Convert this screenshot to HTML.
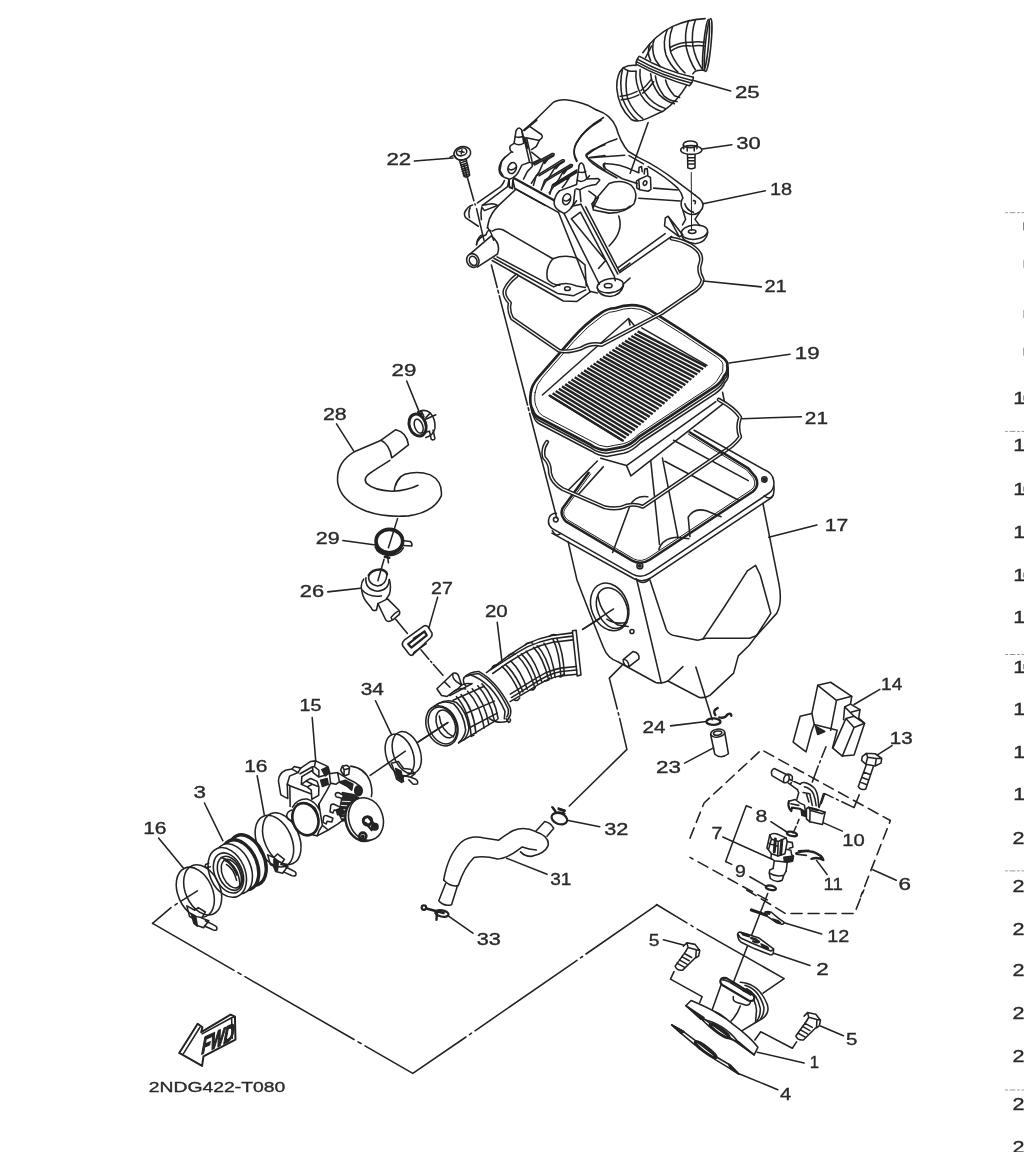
<!DOCTYPE html>
<html><head><meta charset="utf-8"><title>Intake parts diagram</title><style>
html,body{margin:0;padding:0;background:#fff}
svg{display:block}
path,line,ellipse,circle,polyline,polygon,rect{fill:none;stroke:#222;stroke-width:1.55;stroke-linecap:round;stroke-linejoin:round;vector-effect:non-scaling-stroke}
.w{fill:#fff}
.k{fill:#262626}
.t{stroke-width:1}
.b{stroke-width:2.4}
.d{stroke-dasharray:14 4 2 4}
text{font-family:"Liberation Sans",sans-serif;font-size:16.6px;fill:#2a2a2a}
</style></head><body>
<svg width="1024" height="1152" viewBox="0 0 1024 1152">
<g transform="translate(495,120) scale(0.10742)">
<!-- left stud -->
<path d="M178,215 L196,100 Q224,52 250,96 L268,215 M186,152 Q222,172 260,150 M178,215 Q222,246 268,215"/>
<path d="M178,218 L145,238 Q128,262 150,292 L165,300"/>
<!-- clip -->
<path class="b" d="M275,165 L300,260"/>
<path d="M268,160 L322,394 L348,402 M296,175 L345,385 M262,150 L250,96"/>
<!-- notch box -->
<path class="b" d="M385,0 L272,95"/>
<path d="M325,62 L432,135 Q445,150 438,165 L412,190 L292,165 M412,192 L385,245 L340,275 M340,300 L422,365 L352,398"/>
<!-- left ear -->
<path d="M150,300 L92,348 Q40,395 38,458 Q38,508 80,530 L135,552 Q200,530 225,470 L250,420 L322,394"/>
<path d="M92,348 L62,385 L45,470 L75,520"/>
<ellipse cx="160" cy="447" rx="38" ry="53" transform="rotate(20 160 447)"/>
<path d="M128,455 Q160,480 196,440"/>
<!-- leg under left ear -->
<path d="M128,560 L130,618 L160,636 L166,560"/>
<!-- bar -->
<path class="b" d="M178,542 L545,745"/>
<path d="M190,640 L590,860 M166,560 L185,640"/>
<!-- right stud -->
<path d="M765,560 L782,425 Q800,380 825,420 L855,545 M775,480 Q812,500 845,478 M765,560 Q812,590 858,545"/>
<path d="M858,545 L880,520"/>
<!-- bracket top right -->
<path d="M600,660 L760,600 L765,560 M858,550 L960,545 L975,560 L940,600 Q850,610 790,650 L755,640 M790,650 L800,760"/>
<!-- right ear -->
<path d="M600,660 Q560,700 550,760 Q548,810 590,840 L640,870 Q700,850 730,780 L745,650"/>
<ellipse cx="667" cy="738" rx="36" ry="52" transform="rotate(20 667 738)"/>
<path d="M638,745 Q668,770 700,730"/>
<!-- dome crease / ridges -->
<path d="M990,0 Q800,110 745,240 Q720,320 760,385"/>
<path d="M1024,230 Q900,270 850,320 Q840,340 870,360 L1024,470"/>
<path d="M880,350 L1024,330"/>
<path d="M1024,400 Q1005,420 1024,440"/>
<!-- left strut -->
</g>

<g transform="translate(570,110) scale(0.15625)">
<!-- dome right contour + rail -->
<path d="M170,0 Q262,30 295,110 Q320,200 372,264 L440,305 Q560,360 690,462 L800,545"/>
<path d="M378,292 L470,345 M500,362 Q610,425 690,500 Q715,530 722,562"/>
<path d="M215,48 Q90,120 42,210 Q10,270 45,325"/>
<path d="M300,185 Q200,215 105,290 Q120,340 230,395 L300,435"/>
<path d="M130,305 L350,290"/>
<path d="M215,345 Q300,338 400,385 L440,402 M215,345 Q205,365 240,385 L335,440 L430,470"/>
<!-- lead line 25 -->
<path d="M500,80 L385,405"/>
<!-- small bracket -->
<path d="M440,445 L495,420 L515,432 L518,508 L500,520 L445,510 Z M440,445 L425,455 L428,500 L445,510"/>
<ellipse cx="480" cy="468" rx="11" ry="15" transform="rotate(25 480 468)"/>
<path d="M440,400 L442,368 L458,362 L462,395 M475,410 L478,378 L494,374 L498,415"/>
<!-- nose -->
<path d="M250,470 Q330,440 392,482 Q440,530 410,600 Q350,662 250,660 L150,640 L140,600 Z"/>
<path d="M535,500 L690,512 M440,565 L705,582"/>
<!-- upper tab ring -->
<path d="M722,562 Q700,600 722,640 Q780,692 832,650 Q872,610 832,570 L800,545"/>
<path d="M735,600 Q745,640 790,655 M790,580 Q810,580 800,600"/>
<!-- lower tab -->
<ellipse cx="797" cy="782" rx="84" ry="46" transform="rotate(-5 797 782)"/>
<path d="M714,798 Q720,846 802,856 Q872,846 881,786"/>
<ellipse cx="782" cy="778" rx="24" ry="12"/>
<path d="M722,640 L740,700 L720,735 M832,650 L800,700 L830,740"/>
<!-- flap -->
<path d="M610,690 L628,680 L722,800 L700,812 L605,742 Z M628,680 L700,812"/>
<!-- bolt 30 -->
<ellipse cx="770" cy="220" rx="45" ry="22"/>
<path d="M726,222 L728,248 M814,222 L812,248 M750,240 L750,262 M795,240 L795,262"/>
<ellipse cx="776" cy="256" rx="68" ry="28"/>
<path d="M752,284 L754,370 Q775,382 800,370 L800,284 M754,305 L800,305 M754,325 L800,325 M754,345 L800,345"/>
<path class="t" d="M776,400 L778,772"/>
<path d="M846,250 L1036,222 M852,600 L1250,517"/>
<!-- lower-left struts -->
<path d="M150,622 L182,560"/>
</g>

<g transform="translate(450,170) scale(0.17578)">
<!-- struts from right ear to foot -->
<path d="M617,240 L795,690 M650,250 L850,650 M690,278 L885,515 L845,560 M690,278 L742,240 M745,195 L955,592 M772,210 L962,575 M742,240 L935,605 L940,630"/>
<path d="M700,205 L745,195 M690,215 L720,175"/>
<!-- foot -->
<ellipse cx="912" cy="658" rx="75" ry="40" transform="rotate(-8 912 658)"/>
<ellipse cx="900" cy="658" rx="22" ry="12"/>
<path d="M838,672 Q845,715 910,720 Q975,712 987,655 M795,690 L838,700"/>
<!-- flange -->
<path d="M240,515 L645,745 L722,748 L800,692"/>
<path d="M250,502 L612,702 L700,716 L772,682"/>
<path d="M268,494 L590,665 Q650,630 720,660 L770,668"/>
<ellipse cx="668" cy="675" rx="16" ry="11"/>
<!-- lower body -->
<path d="M240,348 Q270,328 300,340 L585,505 Q540,560 555,622 Q575,652 625,655"/>
<path d="M585,505 Q650,480 720,500 L768,540 L775,660"/>
<!-- upper body left contour -->
<!-- nipple -->
<ellipse cx="130" cy="515" rx="34" ry="40" transform="rotate(-25 130 515)"/>
<ellipse cx="132" cy="517" rx="21" ry="27" transform="rotate(-25 132 517)"/>
<path d="M112,480 L235,375 Q292,420 270,478 L155,552"/>
<path d="M150,425 Q158,385 205,368 M205,368 Q215,335 232,345"/>
<!-- left wing -->
<!-- dash-dot centre line -->

<!-- right side -->
<path d="M960,262 Q990,350 905,432 M815,200 Q900,245 1000,222 L1024,205 M815,200 L830,150 L790,120"/>
<path d="M962,575 L1024,530 M985,650 L1024,615"/>
</g>

<g transform="translate(450,90) scale(0.17578)">
<!-- dome top outline -->
<path d="M452,203 L588,70 Q612,54 655,55 Q720,60 790,90 L836,115"/>
<!-- screw 22 -->
<ellipse cx="70" cy="360" rx="48" ry="38" transform="rotate(-15 70 360)"/>
<ellipse cx="66" cy="352" rx="30" ry="22" transform="rotate(-15 66 352)"/>
<path d="M52,350 L80,354 M68,340 L64,364"/>
<path d="M28,375 Q40,410 92,392"/>
<path d="M55,402 L82,492 Q98,500 112,485 L92,394 M58,416 L95,403 M61,428 L98,415 M64,440 L101,427 M67,452 L104,439 M70,464 L107,451 M73,476 L109,463 M77,488 L111,476"/>
<path d="M0,382 L22,372"/>
</g>

<g transform="translate(590,0) scale(0.17578)">
<!-- flange right -->
<ellipse cx="672" cy="256" rx="16" ry="152" transform="rotate(5.5 672 256)"/>
<ellipse cx="660" cy="256" rx="14" ry="146" transform="rotate(5.5 660 256)"/>
<!-- upper section -->
<path d="M655,106 Q560,110 470,150 Q370,200 300,300"/>
<path d="M640,400 Q600,395 585,420"/>
<path d="M600,112 Q575,180 585,260 Q600,340 640,395"/>
<path d="M560,120 Q535,190 548,270 Q565,345 600,398"/>
<path d="M470,152 Q440,230 460,300 Q490,370 540,415"/>
<path d="M440,168 Q410,240 432,312 Q455,370 500,410"/>
<path d="M365,225 Q345,280 372,340 L400,380 M340,250 Q322,300 345,345"/>
<path d="M462,290 Q510,255 575,262 M455,270 Q510,238 580,240"/>
<path d="M585,262 Q615,255 655,262 M583,240 Q615,235 655,242"/>
<path d="M315,330 Q330,300 350,262"/>
<!-- clamp band -->
<path d="M280,320 Q262,340 262,365 Q400,440 565,488 Q585,470 588,440"/>
<path d="M285,322 Q420,400 588,440 M272,338 Q410,418 582,458 M266,352 Q405,430 575,472"/>
<!-- lower section -->
<path d="M262,372 Q225,368 190,385 Q150,420 152,500 Q160,610 235,680 Q270,700 330,672 L420,630 Q500,570 548,488"/>
<path d="M190,385 Q215,410 262,405"/>
<path d="M262,405 Q255,470 290,540 Q330,610 410,635 M285,395 Q278,460 312,528 Q350,590 430,618"/>
<path d="M345,420 Q350,480 395,540 Q435,580 480,590 M372,432 Q378,490 420,545 Q455,575 495,578"/>
<path d="M430,455 Q440,500 480,545 L510,555"/>
<path d="M185,395 Q165,470 185,560 Q215,640 270,685 M215,405 Q195,480 215,565 Q245,635 300,675"/>
<path d="M172,548 Q215,545 268,520 M178,568 Q225,565 278,540"/>
<path d="M290,515 Q320,490 350,450 M300,530 Q335,505 362,465"/>
<!-- lead line -->
<path d="M590,458 L800,518"/>
</g>

<g transform="translate(455,170) scale(0.08789)">
<path d="M200,398 Q140,415 108,488 Q105,530 128,548 L265,640"/>
<path d="M172,430 Q148,480 165,540"/>
<path d="M255,375 L520,188 Q550,160 562,120"/>
<path d="M312,402 L598,190 L612,120"/>
<path d="M615,110 L620,200 L655,212 L662,110"/>
<path d="M312,402 L420,385 Q470,390 482,405 L335,462 L312,432"/>
<path d="M305,420 Q288,490 300,565"/>
<path d="M690,222 L500,400 Q400,500 380,600 L368,660"/>
<path d="M690,218 L1024,402"/>
<path d="M370,650 Q420,720 440,800"/>
<path d="M245,850 Q250,780 300,742"/>
<path d="M100,-60 L215,350 M226,385 L232,398 M245,440 L330,800"/>
</g>

<g transform="translate(515,145) scale(0.06836)">
<path d="M125,500 L180,390 L255,312 L250,285 L545,125 Q588,120 565,160 L420,245 L350,400 L315,445 L240,560"/>
<path d="M285,292 L555,146"/>
<path d="M270,590 L310,452 L330,440 L695,215 Q738,212 715,248 L590,322 L510,452 L450,532 L385,650"/>
<path d="M352,452 L705,238"/>
<path d="M385,660 L430,522 L440,510 L815,285 Q858,282 832,318 L700,398 L640,502 L600,562 L500,700"/>
<path d="M462,522 L822,305"/>
<path d="M510,720 L545,592 L555,575 L905,365 M580,600 L905,400 M800,470 L740,562 L690,625 M567,590 L905,383"/>
<path class="k" d="M420,245 L470,222 L435,268 Z M590,322 L640,298 L600,345 Z M700,398 L750,372 L712,420 Z"/>
</g>

<g transform="translate(480,240) scale(0.29297)">
<path class="w" transform="translate(3,22)" d="M173,523 Q176,495 200,468 L312,340 Q360,285 415,248 Q440,232 460,233 Q490,222 518,222 Q550,222 576,237 L700,315 L825,398 Q848,415 844,430 Q848,450 833,464 Q825,485 800,502 L545,670 Q515,700 488,706 Q455,712 430,717 Q400,715 378,699 L200,606 Q185,598 180,580 Q168,560 173,523 Z"/>
<path class="w" transform="translate(2,11)" d="M173,523 Q176,495 200,468 L312,340 Q360,285 415,248 Q440,232 460,233 Q490,222 518,222 Q550,222 576,237 L700,315 L825,398 Q848,415 844,430 Q848,450 833,464 Q825,485 800,502 L545,670 Q515,700 488,706 Q455,712 430,717 Q400,715 378,699 L200,606 Q185,598 180,580 Q168,560 173,523 Z"/>
<path d="M412,745 L500,770 L515,805 M500,770 L805,552 M515,805 L835,555 L828,520"/>
<path class="w" style="stroke-width:2.7" d="M173,523 Q176,495 200,468 L312,340 Q360,285 415,248 Q440,232 460,233 Q490,222 518,222 Q550,222 576,237 L700,315 L825,398 Q848,415 844,430 Q848,450 833,464 Q825,485 800,502 L545,670 Q515,700 488,706 Q455,712 430,717 Q400,715 378,699 L200,606 Q185,598 180,580 Q168,560 173,523 Z"/>
<path class="t" transform="translate(508,470) scale(0.955) translate(-508,-470)" d="M173,523 Q176,495 200,468 L312,340 Q360,285 415,248 Q440,232 460,233 Q490,222 518,222 Q550,222 576,237 L700,315 L825,398 Q848,415 844,430 Q848,450 833,464 Q825,485 800,502 L545,670 Q515,700 488,706 Q455,712 430,717 Q400,715 378,699 L200,606 Q185,598 180,580 Q168,560 173,523 Z"/>
<path d="M213,529 L507,268 L530,296 M507,268 L512,290 M552,300 L775,428"/>
<path style="stroke-width:2.4;stroke-linecap:butt" d="M538.0,312.0 L772.0,432.0 M527.2,319.8 L761.9,441.0 M516.5,327.6 L751.7,450.1 M505.8,335.5 L741.6,459.1 M495.0,343.3 L731.4,468.1 M484.2,351.1 L721.3,477.2 M473.5,358.9 L711.1,486.2 M462.8,366.8 L701.0,495.2 M452.0,374.6 L690.9,504.3 M441.2,382.4 L680.7,513.3 M430.5,390.2 L670.6,522.4 M419.8,398.0 L660.4,531.4 M409.0,405.9 L650.3,540.4 M398.2,413.7 L640.1,549.5 M387.5,421.5 L630.0,558.5 M376.8,429.3 L619.9,567.5 M366.0,437.1 L609.7,576.6 M355.2,445.0 L599.6,585.6 M344.5,452.8 L589.4,594.6 M333.8,460.6 L579.3,603.7 M323.0,468.4 L569.1,612.7 M312.2,476.2 L559.0,621.8 M301.5,484.1 L548.9,630.8 M290.8,491.9 L538.7,639.8 M280.0,499.7 L528.6,648.9 M269.2,507.5 L518.4,657.9 M258.5,515.4 L508.3,666.9 M247.8,523.2 L498.1,676.0 M237.0,531.0 L488.0,685.0"/>
<path d="M237.0,531.0 L488.0,685.0" style="stroke-width:2"/>
<path style="stroke-width:4.2" d="M654,-5 Q690,0 720,18 Q765,45 752,80 Q742,105 760,135 Q758,160 720,182 L620,250 L415,358 Q380,350 345,370 Q300,385 270,378 L110,268 Q95,240 102,215 Q78,190 85,170 Q95,145 125,122"/><path style="stroke:#fff;stroke-width:1.2" d="M654,-5 Q690,0 720,18 Q765,45 752,80 Q742,105 760,135 Q758,160 720,182 L620,250 L415,358 Q380,350 345,370 Q300,385 270,378 L110,268 Q95,240 102,215 Q78,190 85,170 Q95,145 125,122"/>
<path style="stroke-width:4.2" d="M815,545 Q870,575 888,605 Q875,640 888,672 Q870,700 820,730"/><path style="stroke:#fff;stroke-width:1.2" d="M815,545 Q870,575 888,605 Q875,640 888,672 Q870,700 820,730"/>
<path d="M762,140 L960,160 M850,420 L1058,390 M895,610 L1097,603"/>
</g>
<g transform="translate(530,420) scale(0.29297)">
<!-- interior -->
<path d="M412,138 L442,425 M452,130 L505,400 M460,141 L712,274 M490,69 L745,207 M540,332 Q560,298 602,310 L652,330 M540,332 L546,398"/>
<path d="M282,452 L342,290 Q362,255 402,262 M440,442 Q450,405 500,400 L542,405 M130,240 L230,140 M160,260 L250,160"/>
<!-- rim outer -->
<path d="M560,35 L800,170 Q828,180 832,208 Q836,236 815,250 L410,522 Q380,542 350,526 L75,370 Q58,355 65,335 Q70,318 90,318"/>
<path d="M75,386 L355,542 Q385,557 415,537 L826,264 Q836,250 832,225"/>
<!-- inner rim bold -->
<path style="stroke-width:2.5" d="M545,42 L745,165 L770,195 Q785,225 760,245 L410,476 Q380,496 350,481 L122,346 Q100,322 112,300 L200,180"/>
<path class="t" d="M540,48 L740,171 L763,199 Q775,224 754,239 L406,469 Q380,487 354,474 L127,340 Q108,322 119,304 L207,184"/>
<circle cx="375" cy="498" r="10"/><circle cx="375" cy="498" r="4" class="k"/>
<circle cx="800" cy="203" r="9"/><circle cx="800" cy="203" r="4" class="k"/>
<circle cx="88" cy="340" r="8"/>
<!-- bosses -->
<path d="M362,542 Q385,568 410,542 M800,258 Q815,275 830,258 M76,378 Q88,400 104,388"/>
<!-- body -->
<path d="M130,415 L160,545 Q200,650 250,775 Q265,815 300,825 L429,896 Q450,901 471,891 L578,947 Q600,950 615,939 L695,864 L711,805 L749,768 L773,736 L842,660 Q862,625 850,560 L795,285"/>
<path d="M365,548 L448,898 M410,548 L465,715 Q475,735 500,737 L572,752 L602,745 L750,745 L772,736"/>
<path d="M590,748 L662,640 L742,515 L770,496 L786,530 L822,660 L772,738"/>
<path d="M471,891 L522,842"/>
<!-- hole -->
<ellipse cx="272" cy="638" rx="62" ry="84" transform="rotate(-22 272 638)"/>
<ellipse cx="280" cy="642" rx="50" ry="72" transform="rotate(-22 280 642)"/>
<path d="M232,600 Q240,660 300,700 L335,705 M262,680 Q290,700 330,690"/>
<circle cx="348" cy="722" r="7"/>
<!-- nipple -->
<path d="M318,818 L352,790 Q375,795 372,815 L338,842 Q318,840 318,818 Z M318,818 Q335,815 338,842"/>
<!-- lead lines -->
<path d="M180,715 L285,645 M815,400 L979,358"/>
<!-- gasket bottom portion -->
<path style="stroke-width:4.2" d="M58,75 Q40,100 48,128 Q70,150 68,180 Q75,215 110,235 L255,298 Q300,308 330,292 Q360,285 385,296 L649,116"/>
<path style="stroke:#fff;stroke-width:1.2" d="M58,75 Q40,100 48,128 Q70,150 68,180 Q75,215 110,235 L255,298 Q300,308 330,292 Q360,285 385,296 L649,116"/>
</g>

<g transform="translate(290,350) scale(0.18229)">
<!-- hose 28 -->
<path d="M500,495 L580,437 Q640,450 650,520 L560,590 M500,495 Q548,520 558,592"/>
<path d="M500,495 L350,560 Q250,620 262,730 Q280,830 420,885 Q520,920 650,910 Q790,890 830,800 Q838,720 770,685 Q700,660 630,682 Q590,700 580,742"/>
<path d="M548,605 L455,665 Q395,700 420,732 Q460,770 560,775 Q650,770 702,742"/>
<path d="M602,705 Q575,730 572,772"/>
<path d="M255,405 L350,555"/>
<!-- upper clamp 29 -->
<path d="M640,170 L705,330"/>
<ellipse cx="700" cy="412" rx="45" ry="62" transform="rotate(-20 700 412)" style="stroke-width:3"/>
<ellipse cx="706" cy="418" rx="22" ry="40" transform="rotate(-20 706 418)"/>
<path d="M700,340 Q740,320 770,345 Q800,380 795,430 Q785,470 745,480 M720,335 L735,365 M770,345 L745,372"/>
<path d="M745,380 L800,355 M735,455 L765,445 L775,490 Q790,498 795,485 L785,440"/>
<path class="b" d="M705,345 L722,350"/>
<!-- centre line -->
<path d="M590,925 L540,1085"/>
<!-- lower clamp 29 -->
<ellipse cx="545" cy="1048" rx="73" ry="64" style="stroke-width:3.6"/>
<path d="M475,1075 Q490,1120 545,1128 Q600,1125 622,1085 M488,1095 L500,1110 M520,1118 L540,1122"/>
<path d="M615,1045 L660,1050 Q672,1060 668,1075 L622,1072"/>
<path d="M290,1045 L470,1070"/>
<path class="b" d="M520,1135 L545,1140"/>
</g>

<g transform="translate(290,540) scale(0.17578)">
<!-- 26 -->
<path style="stroke-width:2.4" d="M448,200 Q470,165 520,168 Q548,175 552,195"/>
<path d="M448,200 Q440,250 498,262 Q548,258 552,195"/>
<path d="M432,215 Q425,282 500,292 Q562,285 565,225 M420,222 Q405,240 405,268 Q412,325 432,348 L462,385 Q468,408 492,398 L500,362"/>
<path d="M565,225 Q578,270 565,310 L548,335 M410,285 Q450,330 520,318"/>
<path d="M500,362 L555,335 L620,400 Q632,418 612,432 M500,362 L545,455 Q560,472 582,455 L575,440 Q590,418 620,402 M585,455 L612,432"/>
<path d="M535,110 L500,232 M600,450 L668,532"/>
<path d="M745,625 L790,678 M800,690 L806,697 M816,708 L870,770"/>
<path d="M215,295 L400,275 M840,325 L790,500"/>
<!-- 27 -->
<path d="M640,600 Q635,585 650,570 L760,490 Q775,482 786,495 L808,530 Q812,545 800,556 L702,650 Q690,662 678,650 Z"/>
<path style="stroke-width:2.2" d="M672,592 L765,520 L778,542 L690,612 Z"/>
<path d="M702,560 L765,520 M700,652 L705,640 L775,590"/>
<!-- bottom of lower clamp 29 -->
<path style="stroke-width:2.6" d="M488,40 Q500,75 555,85 Q610,80 628,40"/>
<path d="M555,90 L560,130"/>
</g>

<g transform="translate(410,600) scale(0.18555)">
<!-- left opening -->
<ellipse cx="172" cy="678" rx="82" ry="112" transform="rotate(-22 172 678)"/>
<ellipse cx="176" cy="676" rx="73" ry="103" transform="rotate(-22 176 676)"/>
<ellipse cx="193" cy="668" rx="48" ry="78" transform="rotate(-22 193 668)"/>
<path d="M158,625 Q165,700 235,738"/>
<path d="M130,572 Q180,535 235,560 Q290,610 300,700 Q295,740 262,770"/>
<path d="M150,560 Q200,530 250,552 Q305,600 318,690 Q315,725 290,755"/>
<path d="M45,765 L205,660"/>
<!-- left ribbed section -->
<path d="M215,515 L335,450 M262,770 L470,645"/>
<path d="M250,520 Q320,600 330,735 M275,510 Q345,590 355,718 M310,492 Q380,565 400,690 M335,478 Q405,550 425,672 M365,462 Q430,530 455,650 M388,452 Q455,520 475,640"/>
<path d="M232,540 L400,465 M300,612 L455,545 M318,690 L470,610 M330,735 L345,728"/>
<!-- port -->
<path d="M145,478 L232,395 Q255,388 262,410 L278,458 Q262,480 240,490 L200,520 L170,515 Z M232,395 Q225,420 250,440 L278,458 M185,440 L215,470"/>
<path d="M278,458 Q300,445 330,452 M240,490 Q270,470 300,480"/>
<!-- big flange -->
<path d="M290,420 Q320,385 370,385 Q470,440 540,580 Q548,610 535,632"/>
<path d="M305,412 Q335,395 372,398 Q465,450 528,585 Q535,610 522,630 M320,402 Q440,440 512,600 L508,640"/>
<path d="M290,420 Q282,445 300,462 M430,640 Q470,668 520,655 L535,632 M518,640 L532,660 Q545,655 540,642"/>
<path d="M470,120 L495,325 M930,158 L1024,100"/>
</g>

<g transform="translate(480,620) scale(0.10742)">
<path d="M60,490 L240,350 Q340,280 440,220 Q550,170 670,145 L860,120"/>
<path d="M280,760 L450,660 Q540,600 620,560 Q690,530 750,520 L905,505"/>
<path class="w" d="M860,100 L895,95 L940,512 L905,522 Z"/>
<path d="M205,432 Q300,520 372,690 M238,415 Q335,505 400,668"/>
<path d="M350,335 Q450,430 505,615 M385,315 Q485,410 535,595"/>
<path d="M498,255 Q590,350 640,560 M532,240 Q625,335 668,545"/>
<path d="M680,180 Q740,300 752,515 M715,172 Q775,290 785,510"/>
<path d="M290,385 Q380,470 440,645 M430,290 Q520,390 575,578 M595,215 Q670,320 700,535"/>
<path d="M100,462 L240,372 Q340,305 440,250 Q550,200 670,175 L862,150"/>
<path d="M118,498 L255,402 Q350,340 450,285 Q560,232 680,208 L865,185"/>
<path d="M292,722 L455,622 Q540,565 620,524 Q690,492 755,480 L902,466"/>
<path d="M282,690 L440,592 Q530,535 610,492 Q680,462 748,448 L898,432"/>
<path d="M110,450 Q120,415 160,420 M265,335 Q285,305 325,318 M420,232 Q445,200 490,215 M650,150 Q675,125 710,140"/>
<path d="M320,745 Q350,760 370,725 M470,650 Q500,660 515,625 M600,565 Q630,575 645,540 M735,525 Q760,540 775,505"/>
</g>

<g transform="translate(270,670) scale(0.17578)">
<!-- clamp 34 -->
<ellipse cx="778" cy="470" rx="76" ry="124" transform="rotate(-20 778 470)"/>
<ellipse cx="738" cy="484" rx="76" ry="124" transform="rotate(-20 738 484)"/>
<path d="M700,555 L690,530 L730,520 L760,560 L800,565 L825,590 L800,610 L760,600 L750,640 L720,620 Z M800,610 L830,622 Q845,630 838,648 L815,650 L790,625"/>
<path class="k" d="M715,560 L745,575 L760,635 L725,615 Z"/>
<path d="M570,600 L770,462 M840,412 L1010,300 M600,175 L690,365"/>
<path d="M240,270 L260,515"/>
</g>

<g transform="translate(135,745) scale(0.17578)">
<!-- upper clamp 16 -->
<ellipse cx="835" cy="533" rx="98" ry="155" transform="rotate(-24 835 533)"/>
<ellipse cx="793" cy="547" rx="98" ry="155" transform="rotate(-24 793 547)"/>
<path d="M755,625 L790,640 L810,620 L850,650 L830,680 L870,690 L840,730 L800,720 L790,690 L770,680 Z"/>
<path class="k" d="M790,650 L815,665 L810,715 L792,700 Z"/>
<path d="M850,690 L900,715 Q920,722 915,740 Q905,750 890,742 L845,722"/>
<path d="M695,175 L735,395"/>
<!-- joint 3 -->
<ellipse cx="640" cy="655" rx="95" ry="152" transform="rotate(-24 640 655)" style="stroke-width:3.4"/>
<ellipse class="w" cx="598" cy="682" rx="95" ry="150" transform="rotate(-24 598 682)" style="stroke-width:3.4"/>
<ellipse class="w" cx="560" cy="705" rx="98" ry="150" transform="rotate(-24 560 705)"/>
<ellipse class="w" cx="525" cy="725" rx="100" ry="148" transform="rotate(-24 525 725)"/>
<ellipse cx="532" cy="728" rx="78" ry="120" transform="rotate(-24 532 728)"/>
<ellipse cx="540" cy="730" rx="64" ry="102" transform="rotate(-24 540 730)"/>
<ellipse cx="548" cy="732" rx="50" ry="86" transform="rotate(-24 548 732)"/>
<path d="M490,640 Q540,650 580,720 Q600,770 595,810 M505,655 Q550,670 580,740 M520,680 Q560,700 578,770"/>
<path d="M420,672 L402,680 Q395,690 405,698 L428,692"/>
<path d="M395,330 L500,545"/>
<!-- lower clamp 16 -->
<ellipse cx="385" cy="824" rx="98" ry="150" transform="rotate(-24 385 824)"/>
<ellipse cx="343" cy="838" rx="98" ry="150" transform="rotate(-24 343 838)"/>
<path d="M295,915 L340,940 L360,925 L400,950 L380,985 L420,1000 L390,1040 L350,1025 L335,990 L310,975 Z"/>
<path class="k" d="M320,960 L345,975 L355,1030 L335,1015 Z"/>
<path d="M400,1000 L450,1025 Q470,1032 465,1050 Q455,1058 440,1050 L395,1030"/>
<path d="M135,530 L275,700"/>
<path d="M355,830 L262,888 M240,902 L228,910 M205,925 L100,1015"/>
</g>

<g transform="translate(272,755) scale(0.11719)">
<!-- rear round -->
<path d="M672,95 Q790,110 835,220 Q862,300 848,355"/>
<path d="M585,130 L600,95 L640,88 L662,105 L655,165 L615,180 Z M600,95 L615,125 L655,115 M615,125 L615,180"/>
<!-- left box -->
<path d="M55,222 Q55,160 115,130 L170,120 L190,98 L245,112 L222,150 L150,180 L130,250 L135,372 L75,340 Z"/>
<path d="M130,250 L152,262 L155,440 M170,120 L225,150 M152,262 L330,330"/>
<!-- top -->
<path d="M245,112 L330,55 L372,50 L470,95 L482,130 L452,172 L400,188 L350,150 L345,100 M372,50 L362,100 L400,130 L400,188 M362,100 L345,100 M240,160 L345,100 M255,185 L350,128"/>
<path class="k" d="M425,125 L478,100 L492,150 L455,178 Z"/>
<path d="M255,185 L250,250 L300,272 L345,250 L400,272 L398,345 L340,378 L335,300 L300,272 M250,250 L290,222 L345,250 M290,222 L330,200 L385,225 L400,272"/>
<path class="k" d="M415,215 L470,200 L480,250 L430,268 Z"/>
<path d="M490,160 L560,150 L640,200 L700,230 L745,262 M490,160 L500,240 L470,300 L400,420 M560,150 L575,230 L545,250 L500,240 M575,230 L640,265"/>
<path class="k" d="M575,230 L625,215 L690,250 L680,300 L640,265 Z"/>
<ellipse class="k" cx="738" cy="305" rx="32" ry="42"/>
<!-- dark spring block -->
<path class="k" d="M600,320 L700,340 L760,380 L700,440 L660,560 L600,560 L570,500 L590,400 Z"/>
<path style="stroke:#fff;stroke-width:0.9" d="M600,395 L720,400 M590,430 L700,438 M585,465 L690,472 M585,500 L680,508 M595,535 L670,540"/>
<!-- fingers -->
<path class="w" d="M540,335 Q545,318 570,322 L610,345 L600,372 L565,360 Q545,365 540,335 Z"/>
<path class="w" d="M500,440 Q500,415 530,420 L580,445 L570,480 L530,470 L520,495 L495,485 Z"/>
<path class="w" d="M440,535 Q440,512 470,518 L520,540 L510,572 L470,565 L462,588 L435,575 Z"/>
<path class="k" d="M548,470 L600,450 L610,500 L560,510 Z"/>
<path d="M400,420 L430,600 L480,640 L560,590 L600,560 M430,600 L400,650 L385,690 L480,640"/>
<!-- front bore -->
<path d="M175,445 Q215,370 300,375 Q370,395 405,470 L400,420"/>
<path d="M170,470 Q130,480 125,520 Q135,560 175,560"/>
<ellipse class="w" cx="285" cy="548" rx="108" ry="140" transform="rotate(-18 285 548)" style="stroke-width:2.6"/>
<path d="M215,420 Q290,385 365,450 Q395,500 398,560"/>
<path d="M385,690 L350,682"/>
<!-- pulley -->
<ellipse class="w" cx="772" cy="556" rx="142" ry="182" transform="rotate(-18 772 556)" style="stroke-width:2.4"/>
<ellipse class="w" cx="802" cy="546" rx="145" ry="185" transform="rotate(-18 802 546)"/>
<circle cx="815" cy="562" r="36" style="stroke-width:3"/>
<circle class="k" cx="878" cy="612" r="27"/>
<circle cx="775" cy="692" r="30" style="stroke-width:2.6"/>
<circle class="k" cx="775" cy="695" r="10"/>
<path class="b" d="M830,540 L880,600 M800,580 L850,640"/>
</g>

<g transform="translate(410,780) scale(0.22461)">
<path d="M150,445 Q170,330 230,275 Q270,245 330,258 L395,268 Q430,240 460,225 Q510,205 560,230 Q622,250 615,292 Q600,328 540,340 Q510,340 492,320"/>
<path d="M215,470 Q240,390 285,345 Q330,335 390,352 Q430,350 480,312 L500,298 Q530,308 562,312"/>
<path d="M560,228 L600,185 Q625,190 640,215 L610,250"/>
<path d="M150,445 Q180,478 215,470 M158,462 L128,538 Q150,565 185,555 L210,475"/>
<!-- clamp 32 -->
<ellipse cx="665" cy="172" rx="36" ry="24" transform="rotate(20 665 172)" style="stroke-width:2.2"/>
<path d="M640,150 Q660,135 690,150 M632,120 L650,145 M660,125 L690,135 L680,150"/>
<path class="b" d="M635,122 L648,140 M662,130 L688,138"/>
<path d="M705,180 L845,208 M430,348 L610,420 M170,605 L280,682"/>
<!-- clip 33 -->
<circle cx="62" cy="568" r="10" style="stroke-width:2.2"/>
<path class="b" d="M72,572 L150,592 M120,590 L118,622"/>
<ellipse cx="142" cy="594" rx="30" ry="14" transform="rotate(12 142 594)" style="stroke-width:2.2"/>
<!-- long line bottom right -->

</g>

<g transform="translate(690,660) scale(0.234375)">
<!-- 14 -->
<path class="w" d="M545,108 L600,95 L690,155 L685,188 L725,212 L720,248 L745,270 L700,405 L650,410 L608,375 L628,300 L530,275 L520,300 L495,392 L440,350 L470,240 L520,228 Z"/>
<path d="M545,108 L625,172 L690,155 M625,172 L600,300 M685,188 L660,200 L700,240 M725,212 L690,222 M665,250 L700,240 L745,270 L700,288 Z M665,250 L610,375 M700,288 L650,410 M660,200 L655,255"/>
<path d="M520,228 L530,275"/>
<path class="k" d="M535,282 L575,305 L545,318 Z"/>
<path d="M700,190 L810,125"/>
<path d="M580,370 L562,415 M556,430 L553,438 M547,452 L522,520"/>
<!-- 13 -->
<path d="M735,412 L752,398 L790,400 L818,420 L815,440 L790,452 L750,445 L732,428 Z M752,398 L758,415 L795,420 L818,420 M758,415 L750,445 M795,420 L790,452"/>
<path d="M752,448 L718,540 Q730,558 750,550 L782,455 M724,520 L755,532 M732,500 L762,512 M740,478 L770,490"/>
<path d="M800,405 L862,365"/>
<!-- dashed hexagon 6 -->
<path style="stroke-dasharray:11 6" d="M330,1024 L0,842 M0,760 L60,610 L305,383 L855,685 L728,1010"/>
<path d="M780,895 L880,940"/>
<!-- bracket for 13 -->
<path d="M560,612 L575,570 L610,587 M625,594 L633,598 M648,605 L700,630 L722,575"/>
<!-- 10 moved -->
<path d="M570,695 L650,730"/>
<path d="M465,680 L458,698 M453,710 L440,738"/>
<!-- 7 bracket + leads -->
<path d="M262,630 L240,622 L152,860 L178,872"/>
<path d="M345,690 L415,735 M140,755 L350,850 M255,925 L325,965 M540,855 L585,915"/>
<ellipse cx="435" cy="742" rx="22" ry="9" transform="rotate(12 435 742)" style="stroke-width:2.3"/>
<ellipse cx="345" cy="972" rx="22" ry="9" transform="rotate(12 345 972)" style="stroke-width:2.3"/>
<!-- 24 -->
<ellipse cx="100" cy="263" rx="30" ry="14" style="stroke-width:2.4"/>
<path class="b" d="M108,235 Q95,215 118,205 M125,245 Q150,250 160,232 Q178,225 176,238"/>
<path d="M-83,281 L70,262 M25,30 L95,255"/>
<!-- 23 -->
<ellipse cx="118" cy="312" rx="30" ry="17" transform="rotate(-8 118 312)"/>
<ellipse cx="118" cy="312" rx="18" ry="9" transform="rotate(-8 118 312)"/>
<path d="M88,318 L106,402 Q132,425 164,400 L148,308"/>
<path d="M-23,440 L100,375"/>
</g>

<g transform="translate(750,760) scale(0.11287)">
<!-- part 10 -->
<path d="M215,75 Q178,88 195,138 L300,200 M215,75 L322,128 M300,200 Q288,160 322,128 Q352,128 347,170 Q337,208 300,200"/>
<path d="M322,128 Q355,118 375,145 Q382,180 360,215 M347,170 L445,215 M340,205 L420,262"/>
<path d="M445,215 Q455,198 482,200 Q542,215 577,258 Q605,300 608,412 M420,262 L432,290 L415,348"/>
<path d="M482,238 Q540,252 562,300 Q580,350 586,405 M470,288 L530,300 L552,402 M500,302 L522,372"/>
<path style="stroke-width:2.2" d="M345,365 Q333,400 350,432 L366,452 L372,422 L440,432 L492,462"/>
<path d="M345,365 L400,350 L440,380 L482,400 L492,462 M362,388 L432,402"/>
<path class="k" d="M455,455 L492,462 L495,500 L460,490 Z"/>
<path class="w" d="M500,432 L520,418 L600,440 L665,462 L642,572 L530,548 L500,522 Z"/>
<path d="M520,418 L532,446 L640,476 L665,462 M532,446 L530,548"/>
<path class="b" d="M540,428 L600,444"/>
<path d="M650,300 L612,420"/>
<!-- injector -->
<path class="w" d="M150,780 L175,665 Q200,645 240,655 L320,690 L330,722 L310,830 L250,850 L190,830 Z"/>
<path d="M175,665 L190,700 L250,722 L320,690 M250,722 L245,850 M190,700 L165,790 M170,740 L245,765"/>
<path style="stroke-width:3" d="M225,700 L215,815 M282,712 L272,835"/>
<path d="M330,722 L375,732 L380,772 L348,782 M322,790 L362,800 L370,840 L386,852 L376,896 L330,906"/>
<path class="k" d="M300,862 L382,850 L376,894 L305,900 Z"/>
<path d="M190,830 L185,872 L215,892 L330,906 M215,892 L205,960 M330,906 L320,985"/>
<path d="M205,960 L175,975 L170,1000 Q230,1042 300,1020 L320,985 M170,1000 L180,1050 Q230,1092 285,1066 L300,1020"/>
<!-- clip 11 -->
<path style="stroke-width:2.4" d="M410,826 Q480,795 560,815 Q640,845 650,886 Q600,858 545,876"/>
<path d="M430,805 L520,800 M410,835 L500,845"/>
</g>

<g transform="translate(640,890) scale(0.234375)">
<!-- big bracket line -->
<path d="M70,62 L200,140 M218,151 L226,156 M244,167 L615,378 L525,440"/>
<path style="stroke-dasharray:11 6" d="M455,0 L620,100 L915,100 L955,0"/>
<path d="M545,15 L400,390"/>
<path d="M615,140 L775,188"/>
<path d="M570,270 L725,322"/>
<path d="M500,692 L700,738"/>
<path d="M425,785 L588,852"/>
<!-- bolts 5 -->
<g id="bolt5">
<path d="M185,240 L200,225 L235,232 L255,258 L250,282 L238,290 M200,225 L205,245 L240,255 L255,258 M205,245 L195,262 M240,255 L238,290"/>
<path d="M195,262 L150,325 Q158,345 182,342 L235,290 M158,312 L190,330 M168,298 L200,316 M178,284 L210,302 M188,270 L220,288"/>
</g>
<use href="#bolt5" transform="translate(515,298)"/>
<path d="M145,348 L130,380 L265,455 L255,480 M490,640 L515,605 L650,675 L668,648"/>
<path d="M100,212 L185,235 M770,580 L868,622"/>
</g>

<g transform="translate(670,960) scale(0.11719)">
<!-- rings -->
<path d="M600,190 Q760,200 830,380 Q852,440 800,492 L720,540 L612,605"/>
<path d="M640,215 Q760,250 800,400 Q808,450 775,500 M655,245 Q745,290 770,410 Q775,470 745,515 M680,290 Q730,340 738,430 L730,530"/>
<!-- tube -->
<path d="M440,200 L360,425 M600,392 Q572,470 520,522"/>
<path d="M360,432 Q425,450 482,505 M370,445 L470,520"/>
<!-- top lip -->
<path class="w" style="stroke-width:2.2" d="M430,175 Q440,145 482,155 L700,290 Q726,310 716,340 Q700,357 670,345 L450,215 Q425,200 430,175 Z"/>
<path d="M450,170 Q470,168 500,185 L690,300 M500,185 Q540,185 600,225"/>
<path class="k" d="M610,235 L690,270 L700,295 L625,262 Z"/>
<path d="M540,312 L540,336 Q545,356 572,362 L650,386 Q682,386 686,360"/>
<!-- flange slab -->
<path class="w" d="M135,390 L180,345 Q300,395 365,432 L482,505 L610,605 Q700,680 750,745 L718,810 Z"/>
<path class="k" d="M135,390 L290,492 L262,505 Z M718,810 L555,690 L588,700 Z"/>
<path d="M265,502 Q460,541 582,700 Q396,644 265,502 Z"/>
<ellipse cx="423" cy="604" rx="100" ry="21" transform="rotate(35 423 604)" style="stroke-width:2.8"/>
<!-- gasket 4 -->
<path class="w" d="M15,553 L100,600 L215,685 L400,830 L520,900 L590,975 L510,925 L390,852 L210,722 L95,626 Z"/>
<path class="k" d="M15,553 L120,612 L95,626 Z M590,975 L500,888 L515,926 Z"/>
<ellipse cx="305" cy="765" rx="112" ry="22" transform="rotate(37 305 765)" style="stroke-width:2.8"/>
</g>

<g transform="translate(720,890) scale(0.09766)">
<!-- 12 -->
<path class="w" d="M460,228 Q490,215 525,228 L600,290 L655,330 Q655,350 635,350 L580,335 L480,268 Z"/>
<path style="stroke-width:3.2" d="M322,205 L475,258"/>
<path class="k" d="M540,298 L600,318 L620,335 L575,330 Z M468,225 L512,232 L505,248 Z"/>
<!-- 2 -->
<path class="w" d="M182,470 Q172,440 202,430 L290,455 L400,492 L548,602 L546,650 Q535,668 515,664 L350,600 L212,532 Q185,510 182,470 Z"/>
<path d="M186,455 Q200,490 240,505 L330,545 L520,625 L548,610"/>
<path class="k" d="M215,435 L295,460 L300,478 L240,462 Z M420,552 L490,585 L495,602 L440,585 Z"/>
<path style="stroke-width:2.4" d="M320,492 Q370,500 400,530 Q385,545 340,525"/>
</g>

<g style="filter:grayscale(1)" transform="translate(130,990) scale(0.17578)">
<path style="stroke-width:2" d="M280,358 L385,192 L412,212 L405,240 L572,140 L597,152 L600,282 L418,378 L410,432 Z"/>
<path d="M304,362 L398,212 M410,250 L578,158 L597,152 M578,158 L582,275"/>
<text transform="matrix(0.575,-0.268,-0.18,1,403,367)" style="font-size:140px;font-weight:bold;stroke:#222;stroke-width:10px;stroke-linejoin:round">FWD</text>
</g>
<!-- long frame lines -->
<path d="M152.6,923.4 L234.0,970.3 M238.0,972.6 L241.0,974.4 M245.0,976.7 L354.0,1039.5 M358.0,1041.8 L361.0,1043.5 M365.0,1045.8 L412.8,1073.4 M412.8,1073.4 L466,1037 M469.5,1034.6 L471.5,1033.2 M475,1030.8 L577,960.3 M580.5,957.9 L582.5,956.5 M586,954 L656.9,904.9"/>

<path d="M622,665.4 L609.3,678.1 L617.3,709 M618.2,712.8 L618.8,715 M619.7,718.6 L626.9,749.4 L569.3,806"/>
<path d="M491.4,265 L497.2,287.5 M497.9,290.3 L498.6,293 M499.3,295.8 L527.5,405 M528.2,407.8 L528.9,410.5 M529.6,413.3 L556.7,517.8"/>
<path d="M414.4,161.1 L453,158.1"/>
<path d="M617.8,267.9 L665.2,233.6 M619.7,272.6 L671.6,236.4"/>

<g opacity="0.999" style="stroke:#2a2a2a;stroke-width:0.35px">
<text transform="translate(734.98,97.56) scale(1.343,1)">25</text>
<text transform="translate(736.30,149.22) scale(1.324,1)">30</text>
<text transform="translate(769.96,195.22) scale(1.201,1)">18</text>
<text transform="translate(386.42,165.44) scale(1.338,1)">22</text>
<text transform="translate(764.42,292.22) scale(1.207,1)">21</text>
<text transform="translate(794.74,359.12) scale(1.343,1)">19</text>
<text transform="translate(804.86,423.78) scale(1.253,1)">21</text>
<text transform="translate(824.74,530.66) scale(1.277,1)">17</text>
<text transform="translate(391.54,376.00) scale(1.343,1)">29</text>
<text transform="translate(322.98,419.88) scale(1.286,1)">28</text>
<text transform="translate(315.76,544.34) scale(1.288,1)">29</text>
<text transform="translate(299.86,597.34) scale(1.314,1)">26</text>
<text transform="translate(431.10,594.00) scale(1.178,1)">27</text>
<text transform="translate(484.88,616.78) scale(1.237,1)">20</text>
<text transform="translate(360.76,695.00) scale(1.255,1)">34</text>
<text transform="translate(299.52,710.56) scale(1.186,1)">15</text>
<text transform="translate(244.18,771.56) scale(1.267,1)">16</text>
<text transform="translate(193.52,798.44) scale(1.354,1)">3</text>
<text transform="translate(143.18,834.44) scale(1.267,1)">16</text>
<text transform="translate(881.08,690.10) scale(1.145,1)">14</text>
<text transform="translate(889.84,743.66) scale(1.244,1)">13</text>
<text transform="translate(642.54,733.00) scale(1.241,1)">24</text>
<text transform="translate(656.08,773.00) scale(1.347,1)">23</text>
<text transform="translate(755.42,821.78) scale(1.279,1)">8</text>
<text transform="translate(711.42,839.22) scale(1.188,1)">7</text>
<text transform="translate(842.30,846.22) scale(1.221,1)">10</text>
<text transform="translate(734.88,877.10) scale(1.176,1)">9</text>
<text transform="translate(823.52,889.78) scale(1.124,1)">11</text>
<text transform="translate(898.52,889.78) scale(1.354,1)">6</text>
<text transform="translate(604.20,835.12) scale(1.310,1)">32</text>
<text transform="translate(550.20,885.44) scale(1.150,1)">31</text>
<text transform="translate(476.76,945.34) scale(1.310,1)">33</text>
<text transform="translate(827.18,942.00) scale(1.190,1)">12</text>
<text transform="translate(648.76,946.12) scale(1.157,1)">5</text>
<text transform="translate(816.20,975.10) scale(1.354,1)">2</text>
<text transform="translate(845.98,1044.78) scale(1.234,1)">5</text>
<text transform="translate(809.64,1068.44) scale(1.004,1)">1</text>
<text transform="translate(779.88,1100.12) scale(1.216,1)">4</text>
<text transform="translate(148.7,1091.8) scale(1.25,1)" style="font-size:15.5px">2NDG422-T080</text>
<text transform="translate(1013.2,404) scale(1.3,1)">1</text>
<text transform="translate(1013.2,451) scale(1.3,1)">1</text>
<text transform="translate(1013.2,495) scale(1.3,1)">1</text>
<text transform="translate(1013.2,538) scale(1.3,1)">1</text>
<text transform="translate(1013.2,581) scale(1.3,1)">1</text>
<text transform="translate(1013.2,623) scale(1.3,1)">1</text>
<text transform="translate(1013.2,672.6) scale(1.3,1)">1</text>
<text transform="translate(1013.2,715) scale(1.3,1)">1</text>
<text transform="translate(1013.2,757.7) scale(1.3,1)">1</text>
<text transform="translate(1013.2,800.2) scale(1.3,1)">1</text>
<text transform="translate(1012.5,844.2) scale(1.3,1)">2</text>
<text transform="translate(1012.5,891.7) scale(1.3,1)">2</text>
<text transform="translate(1012.5,934.8) scale(1.3,1)">2</text>
<text transform="translate(1012.5,976.3) scale(1.3,1)">2</text>
<text transform="translate(1012.5,1019.4) scale(1.3,1)">2</text>
<text transform="translate(1012.5,1062.4) scale(1.3,1)">2</text>
<text transform="translate(1012.5,1110) scale(1.3,1)">2</text>
<text transform="translate(1012.5,1153) scale(1.3,1)">2</text>
</g>
<rect x="1023" y="222.3" width="1" height="8" style="fill:#888;stroke:none"/>
<rect x="1023" y="259.8" width="1" height="8" style="fill:#bbb;stroke:none"/>
<rect x="1023" y="310" width="1" height="8" style="fill:#bbb;stroke:none"/>
<rect x="1023" y="347.7" width="1" height="8" style="fill:#aaa;stroke:none"/>
<rect x="1023" y="395.5" width="1" height="5" style="fill:#999;stroke:none"/>
<rect x="1023" y="486.5" width="1" height="5" style="fill:#999;stroke:none"/>
<rect x="1023" y="572.5" width="1" height="5" style="fill:#999;stroke:none"/>
<rect x="1023" y="664.1" width="1" height="5" style="fill:#999;stroke:none"/>
<line x1="1005.5" y1="212.7" x2="1024" y2="212.7" style="stroke:#999;stroke-width:1;stroke-dasharray:2 2.5 5 2.5"/>
<line x1="1005.5" y1="431.4" x2="1024" y2="431.4" style="stroke:#999;stroke-width:1;stroke-dasharray:2 2.5 5 2.5"/>
<line x1="1005.5" y1="654.5" x2="1024" y2="654.5" style="stroke:#999;stroke-width:1;stroke-dasharray:2 2.5 5 2.5"/>
<line x1="1005.5" y1="870.9" x2="1024" y2="870.9" style="stroke:#999;stroke-width:1;stroke-dasharray:2 2.5 5 2.5"/>
<line x1="1005.5" y1="1090" x2="1024" y2="1090" style="stroke:#999;stroke-width:1;stroke-dasharray:2 2.5 5 2.5"/>
</svg></body></html>
